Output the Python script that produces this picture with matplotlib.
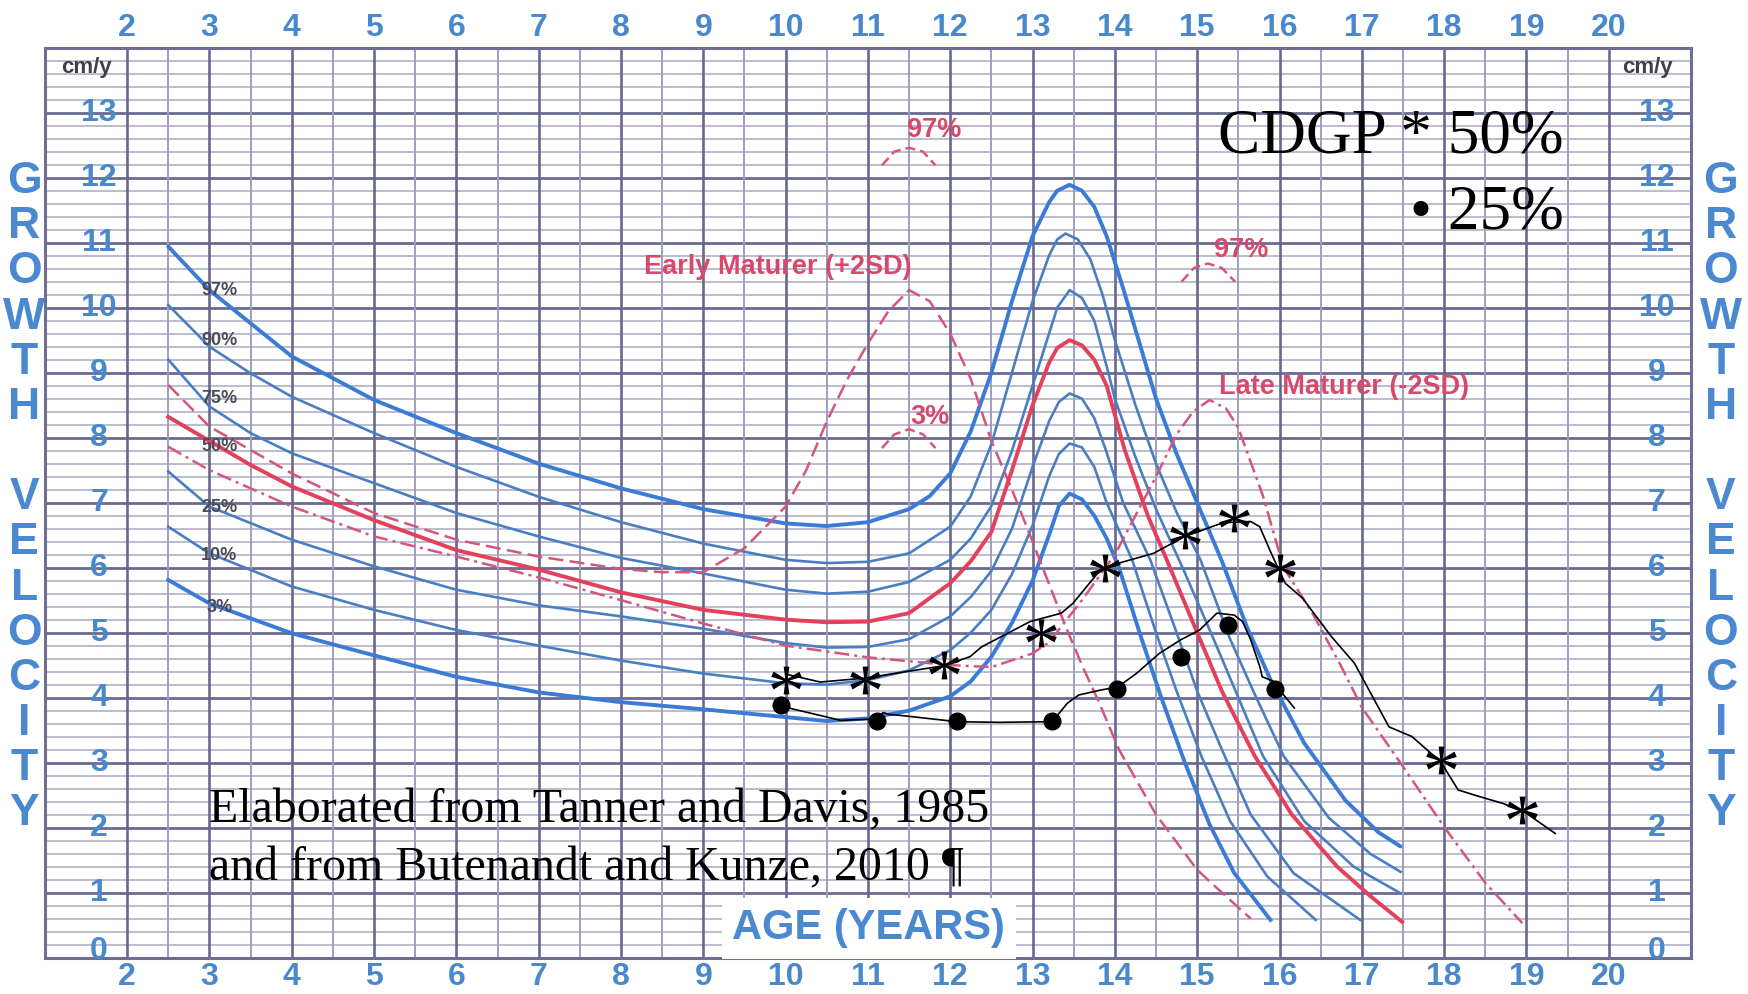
import numpy as np
import matplotlib
matplotlib.use('Agg')
import matplotlib.pyplot as plt
from matplotlib.textpath import TextPath
from matplotlib.font_manager import FontProperties
from matplotlib.path import Path

# --- percentile curves (age in years, velocity in cm/y) ---
p97_x = [2.5, 3, 3.5, 4, 5, 6, 7, 8, 9, 10, 10.5, 11, 11.5, 11.75, 12, 12.25, 12.5, 12.75, 13.0, 13.2, 13.3, 13.45,
         13.6, 13.75, 13.9, 14.1, 14.3, 14.5, 14.75, 15.0, 15.3, 15.6, 15.9, 16.3, 16.8, 17.2, 17.47]
p97_y = [10.94, 10.27, 9.76, 9.25, 8.58, 8.07, 7.6, 7.22, 6.9, 6.68, 6.64, 6.7, 6.9, 7.1, 7.45, 8.1, 9.0, 10.1, 11.1, 11.62, 11.8, 11.89,
         11.8, 11.55, 11.1, 10.3, 9.45, 8.6, 7.75, 7.0, 6.1, 5.1, 4.25, 3.3, 2.42, 1.93, 1.71]

p90_x = [2.5, 3, 3.5, 4, 5, 6, 7, 8, 9, 10, 10.5, 11, 11.5, 12, 12.25, 12.5, 12.75, 13.0, 13.2, 13.3, 13.4,
         13.55, 13.7, 13.85, 14.0, 14.25, 14.5, 14.75, 15.04, 15.4, 15.7, 16.05, 16.6, 17.1, 17.47]
p90_y = [10.04, 9.4, 8.99, 8.63, 8.07, 7.55, 7.09, 6.7, 6.37, 6.12, 6.07, 6.09, 6.22, 6.63, 7.1, 7.9, 9.0, 10.1, 10.8, 11.05, 11.14,
         11.05, 10.75, 10.2, 9.5, 8.5, 7.6, 6.85, 6.12, 4.9, 4.05, 3.1, 2.15, 1.6, 1.32]

p75_x = [2.5, 3, 3.5, 4, 5, 6, 7, 8, 9, 10, 10.5, 11, 11.5, 12, 12.25, 12.5, 12.75, 13.0, 13.2, 13.3, 13.45,
         13.6, 13.75, 13.9, 14.0, 14.25, 14.5, 14.84, 15.2, 15.45, 15.8, 16.3, 16.9, 17.47]
p75_y = [9.2, 8.48, 8.07, 7.76, 7.3, 6.84, 6.48, 6.15, 5.91, 5.66, 5.6, 5.63, 5.78, 6.12, 6.45, 6.95, 7.8, 8.8, 9.6, 10.0, 10.27,
         10.15, 9.8, 9.1, 8.6, 7.7, 6.9, 5.95, 4.9, 4.15, 3.1, 2.1, 1.4, 0.99]

p50_x = [2.5, 3, 3.5, 4, 5, 6, 7, 8, 9, 10, 10.5, 11, 11.5, 12, 12.25, 12.5, 12.75, 13.0, 13.2, 13.3, 13.45,
         13.6, 13.75, 13.9, 14.12, 14.4, 14.63, 15.0, 15.3, 15.7, 16.15, 16.7, 17.1, 17.49]
p50_y = [8.32, 7.95, 7.58, 7.25, 6.73, 6.27, 5.97, 5.62, 5.35, 5.2, 5.16, 5.17, 5.3, 5.76, 6.1, 6.55, 7.5, 8.5, 9.15, 9.38, 9.5,
         9.42, 9.2, 8.8, 7.81, 6.8, 6.12, 5.0, 4.1, 3.1, 2.2, 1.4, 0.95, 0.55]

p25_x = [2.5, 3, 4, 5, 6, 7, 8, 9, 10, 10.5, 11, 11.5, 12, 12.25, 12.5, 12.75, 13.0, 13.2, 13.32, 13.45,
         13.6, 13.75, 13.89, 14.1, 14.43, 14.75, 15.0, 15.3, 15.65, 16.17, 16.98]
p25_y = [7.48, 6.94, 6.43, 6.02, 5.66, 5.42, 5.25, 5.06, 4.84, 4.77, 4.78, 4.9, 5.25, 5.55, 5.95, 6.6, 7.55, 8.25, 8.55, 8.68,
         8.6, 8.3, 7.81, 7.0, 6.12, 5.0, 4.1, 3.2, 2.2, 1.3, 0.58]

p10_x = [2.5, 3, 4, 5, 6, 7, 8, 9, 10, 10.5, 11, 11.5, 12, 12.25, 12.5, 12.75, 13.0, 13.2, 13.32, 13.45,
         13.6, 13.75, 13.9, 14.21, 14.5, 14.75, 15.05, 15.4, 15.85, 16.44]
p10_y = [6.63, 6.22, 5.71, 5.35, 5.04, 4.8, 4.57, 4.37, 4.22, 4.2, 4.27, 4.42, 4.73, 5.0, 5.35, 5.9, 6.65, 7.4, 7.75, 7.91,
         7.85, 7.55, 7.0, 6.12, 5.0, 4.1, 3.1, 2.1, 1.25, 0.58]

p3_x = [2.5, 3, 4, 5, 6, 7, 8, 9, 10, 10.5, 11, 11.5, 12, 12.25, 12.5, 12.75, 13.0, 13.2, 13.32, 13.45,
        13.6, 13.75, 13.9, 14.05, 14.3, 14.55, 14.85, 15.15, 15.45, 15.89]
p3_y = [5.81, 5.45, 4.99, 4.65, 4.32, 4.08, 3.93, 3.82, 3.7, 3.64, 3.68, 3.8, 4.02, 4.25, 4.63, 5.15, 5.8, 6.5, 6.95, 7.14,
        7.05, 6.8, 6.45, 6.0, 5.0, 4.05, 3.0, 2.05, 1.3, 0.58]

# early / late maturer (red dashed)
early_x = [2.5, 3, 4, 5, 6, 7, 8, 8.5, 9, 9.5, 10, 10.25, 10.5, 10.75, 11.0, 11.25, 11.5, 11.75, 12.0, 12.25,
           12.5, 12.75, 13.0, 13.2, 13.4, 13.6, 13.8, 14.05, 14.5, 15.0, 15.3, 15.65]
early_y = [8.81, 8.17, 7.45, 6.84, 6.43, 6.17, 5.98, 5.93, 5.93, 6.3, 6.94, 7.5, 8.25, 8.9, 9.45, 9.95, 10.27, 10.1, 9.6, 8.9,
           7.95, 7.2, 6.4, 5.75, 5.1, 4.5, 3.95, 3.2, 2.2, 1.35, 1.0, 0.6]

late_x = [2.5, 3, 4, 5, 6, 7, 8, 9, 10, 11, 12, 12.5, 13.0, 13.2, 13.6, 14.0, 14.25, 14.5, 14.75, 14.95, 15.15,
          15.35, 15.5, 15.8, 16.05, 16.4, 16.75, 17.0, 17.5, 18.0, 18.5, 18.95]
late_y = [7.86, 7.5, 6.94, 6.48, 6.17, 5.85, 5.5, 5.14, 4.8, 4.62, 4.5, 4.47, 4.68, 4.85, 5.5, 6.2, 6.8, 7.4, 8.05, 8.4, 8.58,
          8.45, 8.15, 7.1, 6.0, 5.3, 4.48, 3.85, 2.94, 2.01, 1.15, 0.53]

# small arcs marking 97% / 3% of maturers
arc_e97_x = [11.17, 11.32, 11.5, 11.67, 11.82]
arc_e97_y = [12.19, 12.4, 12.46, 12.4, 12.19]
arc_e3_x = [11.17, 11.32, 11.5, 11.67, 11.82]
arc_e3_y = [7.84, 8.05, 8.13, 8.05, 7.84]
arc_l97_x = [14.81, 14.96, 15.13, 15.3, 15.46]
arc_l97_y = [10.4, 10.61, 10.68, 10.61, 10.4]

# CDGP patient data
star_x = [10.0, 10.97, 11.93, 13.1, 13.88, 14.85, 15.45, 16.0, 17.96, 18.95]
star_y = [4.27, 4.27, 4.5, 5.0, 6.0, 6.5, 6.76, 6.0, 3.04, 2.27]
star_line_x = [10.01, 10.42, 10.96, 11.92, 12.24, 12.38, 12.97, 13.35, 13.49, 13.84, 14.05, 14.47, 14.85, 15.31, 15.65,
               15.76, 15.9, 16.07, 16.28, 16.63, 16.91, 17.33, 17.61, 17.96, 18.17, 18.37, 18.72, 19.0, 19.35]
star_line_y = [4.36, 4.24, 4.3, 4.49, 4.63, 4.78, 5.17, 5.3, 5.45, 5.99, 6.07, 6.22, 6.48, 6.69, 6.71,
               6.63, 6.22, 5.76, 5.53, 4.94, 4.53, 3.55, 3.4, 3.01, 2.58, 2.5, 2.37, 2.22, 1.91]

dot_x = [9.94, 11.11, 12.08, 13.24, 14.03, 14.8, 15.38, 15.95]
dot_y = [3.88, 3.64, 3.64, 3.64, 4.14, 4.62, 5.11, 4.14]
dot_line_x = [9.94, 10.67, 11.05, 11.19, 11.26, 11.37, 12.08, 12.59, 13.24, 13.42, 13.56, 13.84, 14.03, 14.26, 14.54,
              14.8, 15.03, 15.24, 15.45, 15.55, 15.65, 15.76, 15.79, 15.93, 16.0, 16.18]
dot_line_y = [3.87, 3.65, 3.67, 3.77, 3.74, 3.73, 3.63, 3.62, 3.63, 3.91, 4.04, 4.12, 4.16, 4.37, 4.68,
              4.89, 5.04, 5.3, 5.27, 5.17, 4.89, 4.48, 4.32, 4.25, 4.12, 3.84]

pct_labels = ['97%', '90%', '75%', '50%', '25%', '10%', '3%']
pct_label_y = [10.27, 9.5, 8.6, 7.87, 6.93, 6.19, 5.39]
x_ticks = list(range(2, 21))
y_ticks = list(range(0, 14))

BLUE = '#3b7bd6'
BLUE2 = '#4a7ec2'
RED = '#e3405c'
PINK = '#d6557a'
TICK = '#4a88cc'
SANS = 'Liberation Sans'
SERIF = 'Liberation Serif'

fig = plt.figure(figsize=(17.48, 9.94), dpi=100)
fig.patch.set_facecolor('white')
ax = fig.add_axes([0.02563, 0.03662, 0.9418, 0.9154])
ax.set_xlim(1, 21)
ax.set_ylim(0, 14)
ax.set_xticks([])
ax.set_yticks([])
for s in ax.spines.values():
    s.set_color('#6e6e92')
    s.set_linewidth(2.2)

# grid paper
minor_h = [v for v in np.arange(0, 14.01, 0.2) if abs(v - round(v)) > 0.01]
ax.hlines(minor_h, 1, 21, color='#b6b6cc', lw=1.3, zorder=0)
ax.hlines(y_ticks[1:], 1, 21, color='#6a6a90', lw=2.0, zorder=0)
ax.vlines(np.arange(2.5, 20, 1.0), 0, 14, color='#9e9ebe', lw=1.4, zorder=0)
ax.vlines(x_ticks, 0, 14, color='#68688f', lw=1.9, zorder=0)

# percentile curves
ax.plot(p97_x, p97_y, color=BLUE, lw=2.8, zorder=3, solid_capstyle='round')
ax.plot(p90_x, p90_y, color=BLUE2, lw=1.9, zorder=3)
ax.plot(p75_x, p75_y, color=BLUE2, lw=1.9, zorder=3)
ax.plot(p25_x, p25_y, color=BLUE2, lw=1.9, zorder=3)
ax.plot(p10_x, p10_y, color=BLUE2, lw=1.9, zorder=3)
ax.plot(p3_x, p3_y, color=BLUE, lw=2.8, zorder=3)
ax.plot(p50_x, p50_y, color=RED, lw=2.8, zorder=4)
ax.plot(early_x, early_y, color=PINK, lw=1.8, dashes=(6, 2.5), zorder=3)
ax.plot(late_x, late_y, color=PINK, lw=1.8, dashes=(6, 2, 1.2, 2), zorder=3)
for ax_, ay_ in [(arc_e97_x, arc_e97_y), (arc_e3_x, arc_e3_y), (arc_l97_x, arc_l97_y)]:
    ax.plot(ax_, ay_, color=PINK, lw=1.8, dashes=(4, 2), zorder=3)

for lab, yy in zip(pct_labels, pct_label_y):
    ax.text(3.12, yy, lab, fontsize=13, fontweight='bold', color='#4a4a58', family=SANS,
            ha='center', va='center', zorder=5)

red_kw = dict(fontsize=19.5, fontweight='bold', color='#d9486a', family=SANS, ha='center', va='center', zorder=5)
ax.text(9.91, 10.63, 'Early Maturer (+2SD)', **red_kw)
ax.text(16.78, 8.78, 'Late Maturer (-2SD)', **red_kw)
ax.text(11.8, 12.73, '97%', **red_kw)
ax.text(11.75, 8.32, '3%', **red_kw)
ax.text(15.54, 10.89, '97%', **red_kw)

# axis numbers
tick_kw = dict(fontsize=23, fontweight='bold', color=TICK, family=SANS, ha='center', va='center', clip_on=False)
for v in x_ticks:
    ax.text(v, 14.31, str(v), **tick_kw)
    ax.text(v, -0.3, str(v), **tick_kw)
for v in y_ticks:
    yy = v + 0.1 if v == 0 else v
    ax.text(1.66, yy, str(v), **tick_kw)
    ax.text(20.58, yy, str(v), **tick_kw)
ax.text(1.5, 13.7, 'cm/y', fontsize=16, fontweight='bold', color='#404048', family=SANS, ha='center', va='center')
ax.text(20.47, 13.7, 'cm/y', fontsize=16, fontweight='bold', color='#404048', family=SANS, ha='center', va='center')

# vertical "GROWTH VELOCITY" on both sides
letters = 'GROWTH VELOCITY'
for i, ch in enumerate(letters):
    if ch == ' ':
        continue
    yy = (859 - (163 + 40.5 * i)) / 58.3
    for xx in (0.75, 21.36):
        ax.text(xx, yy, ch, fontsize=32, fontweight='bold', color='#4a88d0', family=SANS,
                ha='center', va='center', clip_on=False)

ax.text(11.01, 0.45, 'AGE (YEARS)', fontsize=30, fontweight='bold', color='#4a88d0', family=SANS,
        ha='center', va='center', zorder=6,
        bbox=dict(boxstyle='square,pad=0.25', fc='white', ec='none'))

# annotations
ax.text(19.45, 12.38, 'CDGP * 50%', fontsize=45.5, family=SERIF, color='black', ha='right', va='baseline', zorder=7)
ax.text(19.45, 11.22, '\u2022 25%', fontsize=45.5, family=SERIF, color='black', ha='right', va='baseline', zorder=7)
ax.text(3.0, 2.08, 'Elaborated from Tanner and Davis, 1985', fontsize=34.5, family=SERIF, color='black',
        ha='left', va='baseline', zorder=7)
ax.text(3.0, 1.18, 'and from Butenandt and Kunze, 2010 \u00b6', fontsize=34.5, family=SERIF, color='black',
        ha='left', va='baseline', zorder=7)

# asterisk marker from the serif glyph (closepoly vertices moved onto the outline)
tp = TextPath((0, 0), '*', size=1, prop=FontProperties(family=SERIF))
verts = tp.vertices.copy()
codes = tp.codes
for i in range(len(codes)):
    if codes[i] == Path.CLOSEPOLY:
        verts[i] = verts[i - 1]
cx = (verts[:, 0].min() + verts[:, 0].max()) / 2
cy = (verts[:, 1].min() + verts[:, 1].max()) / 2
star = Path(verts - [cx, cy], codes)

ax.plot(star_line_x, star_line_y, color='black', lw=1.2, zorder=8)
ax.plot(dot_line_x, dot_line_y, color='black', lw=1.2, zorder=8)
ax.plot(star_x, star_y, ls='none', marker=star, ms=22, color='black', mew=0, zorder=9)
ax.plot(dot_x, dot_y, ls='none', marker='o', ms=12, color='black', zorder=9)

fig.savefig('out.png', dpi=100)
